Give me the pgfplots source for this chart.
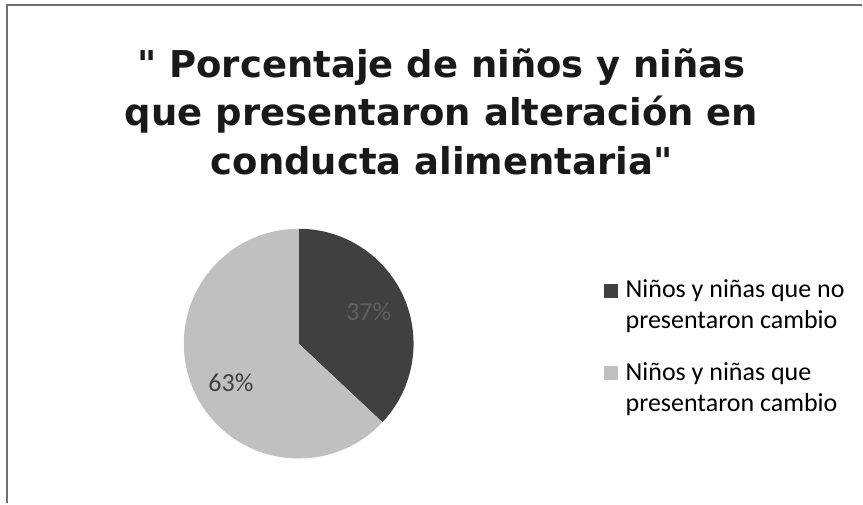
\documentclass[border=0pt]{standalone}
\usepackage{fontspec}
\setmainfont{Carlito}
\newfontfamily\titlefont{DejaVu Sans}
\usepackage{pgfplots}
\usepackage{pgfplotstable}
\pgfplotsset{compat=1.18}

\definecolor{pieDark}{HTML}{404040}
\definecolor{pieLight}{HTML}{C0C0C0}
\definecolor{frameGray}{HTML}{707070}

% porcentaje de cada grupo
\pgfplotstableread{
grupo valor
nocambio 37
cambio 63
}\datos
\pgfplotstablegetelem{0}{valor}\of\datos \let\vA\pgfplotsretval
\pgfplotstablegetelem{1}{valor}\of\datos \let\vB\pgfplotsretval

\begin{document}
\begin{tikzpicture}[x=1pt,y=1pt]
\path[fill=white] (0,0) rectangle (863,504);
\draw[frameGray,line width=1.8pt] (7,0) -- (7,499) -- (863,499);

\node[font=\titlefont\bfseries\fontsize{37}{49}\selectfont,align=center,text=black!90]
  at (442,392) {" Porcentaje de niños y niñas\\que presentaron alteración en\\conducta alimentaria"};

\coordinate (pc) at (184,45);
\begin{axis}[
  at={(pc)}, anchor=south west,
  width=230pt, height=230pt, scale only axis,
  xmin=-1, xmax=1, ymin=-1, ymax=1,
  hide axis, clip=false,
  legend style={draw=none, fill=none, at={(1.83,0.787)}, anchor=north west,
    inner sep=0pt, font=\fontsize{26}{31}\selectfont, nodes={align=left},
    row sep=28pt},
  legend cell align=left,
  legend image code/.code={\fill[#1,draw=none] (0,7.5pt) rectangle (14pt,21.5pt); \path (19pt,8pt);},
]
\addlegendimage{fill=pieDark}
\addlegendentry{Niños y niñas que no\\presentaron cambio}
\addlegendimage{fill=pieLight}
\addlegendentry{Niños y niñas que\\presentaron cambio}

\pgfmathsetmacro\angA{90-3.6*\vA}
\fill[pieDark] (axis cs:0,0) -- (axis cs:0,1) arc[start angle=90, end angle=\angA, radius=115pt] -- cycle;
\fill[pieLight] (axis cs:0,0) -- (axis cs:0,1) arc[start angle=90, end angle=\angA+360, radius=115pt] -- cycle;

\node[font=\fontsize{26}{30}\selectfont, text=black!62] at (axis cs:0.61,0.28)
  {\pgfmathprintnumber[assume math mode=true]{\vA}\%};
\node[font=\fontsize{26}{30}\selectfont, text=black!75] at (axis cs:-0.59,-0.34)
  {\pgfmathprintnumber[assume math mode=true]{\vB}\%};
\end{axis}
\end{tikzpicture}
\end{document}
